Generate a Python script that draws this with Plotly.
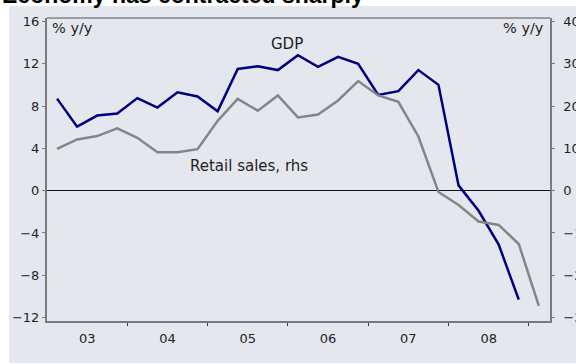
import plotly.graph_objects as go

# Quarterly periods
gdp_quarters = [f"{y}Q{q}" for y in range(2003, 2009) for q in range(1, 5)]
retail_quarters = gdp_quarters + ["2009Q1"]

# Real GDP growth, % y/y (left axis)
gdp = [8.7, 6.05, 7.1, 7.3, 8.75, 7.85, 9.3, 8.9,
       7.5, 11.5, 11.75, 11.4, 12.8, 11.7, 12.65, 12.0,
       9.05, 9.4, 11.4, 10.0, 0.5, -1.9, -5.1, -10.3]

# Retail sales growth, % y/y (right axis)
retail = [9.9, 12.1, 12.9, 14.7, 12.5, 9.1, 9.1, 9.8,
          16.5, 21.7, 18.9, 22.5, 17.3, 18.0, 21.3, 25.9,
          22.5, 21.0, 12.8, -0.3, -3.4, -7.3, -8.1, -12.6, -27.2]

year_labels = ["03", "04", "05", "06", "07", "08"]
left_ticks = [-12, -8, -4, 0, 4, 8, 12, 16]
right_ticks = [-30, -20, -10, 0, 10, 20, 30, 40]


def quarter_mid(label):
    year, q = label.split("Q")
    return int(year) + (int(q) - 0.5) / 4


W, H = 576, 364
ML, MR, MT, MB = 47, 26, 18, 43
PW, PH = W - ML - MR, H - MT - MB


def px(x):
    return (x - ML) / PW


def py(y):
    return (H - MB - y) / PH


BG = "#e4e8ee"
NAVY = "#00007f"
GREY = "#858585"
AXIS = "#7a7a7a"
TXT = "#1e1e1e"
FONT = "DejaVu Sans"

fig = go.Figure()
fig.add_trace(go.Scatter(
    x=[quarter_mid(q) for q in gdp_quarters], y=gdp, mode="lines",
    line=dict(color=NAVY, width=2.5), name="GDP", yaxis="y"))
fig.add_trace(go.Scatter(
    x=[quarter_mid(q) for q in retail_quarters], y=retail, mode="lines",
    line=dict(color=GREY, width=2.5), name="Retail sales, rhs", yaxis="y2"))

years = [2003 + i for i in range(len(year_labels))]

fig.update_layout(
    width=W, height=H,
    margin=dict(l=ML, r=MR, t=MT, b=MB, pad=0, autoexpand=False),
    paper_bgcolor="white", plot_bgcolor=BG,
    showlegend=False,
    font=dict(family=FONT, size=13, color=TXT),
    xaxis=dict(
        range=[2003.0, 2009.264], automargin=False,
        tickvals=[y + 0.5 for y in years], ticktext=year_labels,
        ticks="", showgrid=False, zeroline=False,
        showline=True, linecolor=AXIS, linewidth=2,
        minor=dict(tickvals=[y + 1 for y in years], ticks="outside",
                   ticklen=3, tickcolor="#333333", tickwidth=1, showgrid=False),
        tickfont=dict(size=13, color=TXT),
        ticklabelstandoff=4,
    ),
    yaxis=dict(
        range=[-12.32, 16.32], tickvals=left_ticks, automargin=False,
        ticks="outside", ticklen=3, tickcolor=AXIS,
        showgrid=False, zeroline=True, zerolinecolor="#111111", zerolinewidth=1,
        showline=True, linecolor=AXIS, linewidth=2,
        tickfont=dict(size=13, color=TXT),
    ),
    yaxis2=dict(
        range=[-30.8, 40.8], tickvals=right_ticks, automargin=False,
        overlaying="y", side="right",
        ticks="outside", ticklen=3, tickcolor=AXIS,
        showgrid=False, zeroline=False,
        showline=True, linecolor=AXIS, linewidth=1.5,
        tickfont=dict(size=13, color=TXT),
        ticklabelstandoff=6,
    ),
    shapes=[
        dict(type="rect", xref="paper", yref="paper", layer="below",
             x0=px(9), x1=px(W + 5), y0=py(363), y1=py(6),
             fillcolor=BG, line=dict(width=0)),
        dict(type="line", xref="paper", yref="paper",
             x0=0, x1=1, y0=1, y1=1, line=dict(color="#505050", width=1)),
    ],
    annotations=[
        dict(text="<b>Economy has contracted sharply</b>", xref="paper", yref="paper",
             x=px(0), y=py(-5.5), xanchor="left", yanchor="middle", showarrow=False,
             font=dict(family="Liberation Sans", size=23, color="black")),
        dict(text="% y/y", xref="paper", yref="paper", x=px(50), y=py(28),
             xanchor="left", yanchor="middle", showarrow=False,
             font=dict(size=14.5, color=TXT)),
        dict(text="% y/y", xref="paper", yref="paper", x=px(546), y=py(28),
             xanchor="right", yanchor="middle", showarrow=False,
             font=dict(size=14.5, color=TXT)),
        dict(text="GDP", xref="paper", yref="paper", x=px(286.7), y=py(44),
             xanchor="center", yanchor="middle", showarrow=False,
             font=dict(size=15, color=TXT)),
        dict(text="Retail sales, rhs", xref="paper", yref="paper", x=px(188), y=py(166),
             xanchor="left", yanchor="middle", showarrow=False,
             font=dict(size=15, color=TXT)),
    ],
)

fig.write_html("out.html")
